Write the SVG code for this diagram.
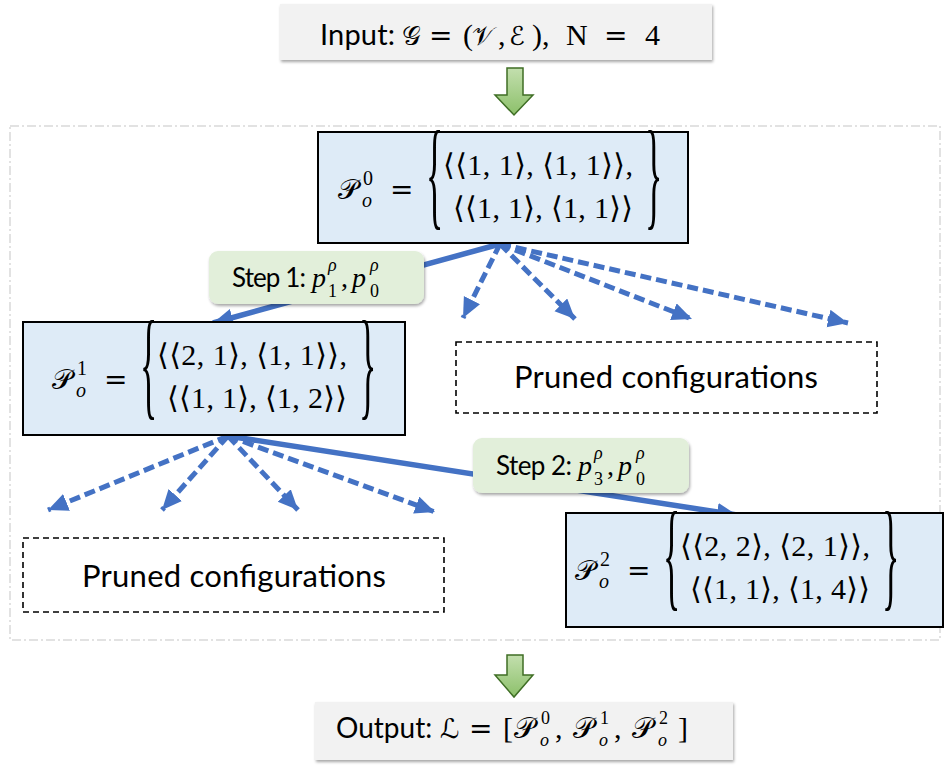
<svg xmlns="http://www.w3.org/2000/svg" width="948" height="765" viewBox="0 0 948 765">
<defs>
<style>
.sans{font-family:Lato,"Open Sans","Liberation Sans",sans-serif;fill:#000}
.m{font-family:"Liberation Serif","DejaVu Serif",serif;fill:#000}
.eq{font-family:"DejaVu Serif","Liberation Serif",serif;fill:#000}
.mi{font-family:"Liberation Serif","DejaVu Serif",serif;font-style:italic;fill:#000}
.scr{font-family:"DejaVu Serif","DejaVu Sans","Noto Sans",serif;fill:#000}
.setbox{fill:#deebf7;stroke:#000;stroke-width:2}
.iobox{fill:#f2f2f2;stroke:none}
.step{fill:#e2efda;stroke:none}
.pruned{fill:none;stroke:#000;stroke-width:1.6;stroke-dasharray:6 4}
.solid{stroke:#4472c4;stroke-width:5.5;fill:none}
.dash{stroke:#4472c4;stroke-width:5;fill:none;stroke-dasharray:11 5}
.garrow{fill:url(#gg);stroke:#3f6e25;stroke-width:1.5}
</style>
<filter id="sh" x="-10%" y="-20%" width="120%" height="150%">
<feDropShadow dx="1" dy="2" stdDeviation="1.5" flood-color="#000" flood-opacity="0.35"/>
</filter>
<linearGradient id="gg" x1="0" y1="0" x2="0" y2="1">
<stop offset="0" stop-color="#c3dfae"/>
<stop offset="1" stop-color="#8cc06a"/>
</linearGradient>
<marker id="ah" markerUnits="userSpaceOnUse" markerWidth="24" markerHeight="22" refX="20" refY="9" orient="auto">
<path d="M0,0 L20,9 L0,18 z" fill="#4472c4"/>
</marker>
</defs>

<rect id="frame" x="10" y="126" width="930" height="514" fill="none" stroke="#d9d9d9" stroke-width="1.5" stroke-dasharray="9 3 2 3"/>

<g id="connectors">
<line class="solid" x1="500" y1="244" x2="213" y2="323" marker-end="url(#ah)"/>
<line class="dash" x1="500" y1="244" x2="463" y2="318" marker-end="url(#ah)"/>
<line class="dash" x1="500" y1="244" x2="575" y2="319" marker-end="url(#ah)"/>
<line class="dash" x1="500" y1="244" x2="692" y2="319" marker-end="url(#ah)"/>
<line class="dash" x1="500" y1="244" x2="848" y2="323" marker-end="url(#ah)"/>
<line class="dash" x1="228" y1="436" x2="48" y2="510" marker-end="url(#ah)"/>
<line class="dash" x1="228" y1="436" x2="162" y2="510" marker-end="url(#ah)"/>
<line class="dash" x1="228" y1="436" x2="298" y2="510" marker-end="url(#ah)"/>
<line class="dash" x1="228" y1="436" x2="435" y2="512" marker-end="url(#ah)"/>
<line class="solid" x1="228" y1="436" x2="737" y2="515" marker-end="url(#ah)"/>
<polygon id="down1" class="garrow" points="507,68 523,68 523,95 533,95 514,115 495,95 507,95"/>
<polygon id="down2" class="garrow" points="507,655 523,655 523,675 533,675 514,697 495,675 507,675"/>
</g>

<g id="input">
<rect class="iobox" x="280" y="4" width="432" height="56" filter="url(#sh)"/>
<text class="sans" x="320" y="45" font-size="29" textLength="75">Input:</text>
<text class="scr" x="402" y="45" font-size="26">𝒢</text>
<text class="eq" x="429" y="45" font-size="28">=</text>
<text class="m" x="463" y="45" font-size="30">(</text>
<text class="scr" x="472" y="45" font-size="26">𝒱</text>
<text class="m" x="498" y="45" font-size="30">,</text>
<text class="scr" x="509" y="45" font-size="26">ℰ</text>
<text class="m" x="532" y="45" font-size="30">),</text>
<text class="m" x="566" y="45" font-size="30">N</text>
<text class="eq" x="604" y="45" font-size="28">=</text>
<text class="m" x="645" y="45" font-size="30">4</text>
</g>

<g id="P0">
<rect class="setbox" x="318" y="132" width="370" height="111"/>
<g transform="translate(338,132)">
<text class="scr" x="0" y="67" font-size="28">𝒫</text>
<text class="m" x="25" y="53" font-size="20">0</text>
<text class="mi" x="24" y="75" font-size="20">o</text>
<text class="eq" x="52" y="67" font-size="28">=</text>
<text class="m" font-size="36" transform="translate(88,82) scale(1,3.33)">{</text>
<text class="m" x="105" y="43" font-size="30" textLength="190">⟨⟨1, 1⟩, ⟨1, 1⟩⟩,</text>
<text class="m" x="115" y="86" font-size="30" textLength="180">⟨⟨1, 1⟩, ⟨1, 1⟩⟩</text>
<text class="m" font-size="36" transform="translate(307,82) scale(1,3.33)">}</text>
</g>
</g>

<g id="step1">
<rect class="step" x="209" y="251" width="215" height="53" rx="9" filter="url(#sh)"/>
<text class="sans" x="232" y="287" font-size="26" textLength="74">Step 1:</text>
<text class="mi" x="312" y="287" font-size="28">p</text>
<text class="mi" x="328" y="271" font-size="18">ρ</text>
<text class="m" x="328" y="297" font-size="18">1</text>
<text class="m" x="341" y="287" font-size="28">,</text>
<text class="mi" x="352" y="287" font-size="28">p</text>
<text class="mi" x="370" y="271" font-size="18">ρ</text>
<text class="m" x="370" y="297" font-size="18">0</text>
</g>

<g id="P1">
<rect class="setbox" x="23" y="322" width="382" height="113"/>
<g transform="translate(52,322)">
<text class="scr" x="0" y="67" font-size="28">𝒫</text>
<text class="m" x="25" y="53" font-size="20">1</text>
<text class="mi" x="24" y="75" font-size="20">o</text>
<text class="eq" x="52" y="67" font-size="28">=</text>
<text class="m" font-size="36" transform="translate(88,82) scale(1,3.33)">{</text>
<text class="m" x="105" y="43" font-size="30" textLength="190">⟨⟨2, 1⟩, ⟨1, 1⟩⟩,</text>
<text class="m" x="115" y="86" font-size="30" textLength="180">⟨⟨1, 1⟩, ⟨1, 2⟩⟩</text>
<text class="m" font-size="36" transform="translate(307,82) scale(1,3.33)">}</text>
</g>
</g>

<g id="pruned1">
<rect class="pruned" x="456" y="342" width="421" height="71"/>
<text class="sans" x="514" y="388" font-size="31" textLength="304">Pruned configurations</text>
</g>

<g id="pruned2">
<rect class="pruned" x="23" y="538" width="421" height="74"/>
<text class="sans" x="82" y="587" font-size="31" textLength="304">Pruned configurations</text>
</g>

<g id="step2">
<rect class="step" x="473" y="438" width="216" height="55" rx="9" filter="url(#sh)"/>
<text class="sans" x="496" y="475" font-size="26" textLength="76">Step 2:</text>
<text class="mi" x="578" y="475" font-size="28">p</text>
<text class="mi" x="594" y="459" font-size="18">ρ</text>
<text class="m" x="594" y="485" font-size="18">3</text>
<text class="m" x="607" y="475" font-size="28">,</text>
<text class="mi" x="618" y="475" font-size="28">p</text>
<text class="mi" x="636" y="459" font-size="18">ρ</text>
<text class="m" x="636" y="485" font-size="18">0</text>
</g>

<g id="P2">
<rect class="setbox" x="566" y="513" width="377" height="114"/>
<g transform="translate(575,513)">
<text class="scr" x="0" y="67" font-size="28">𝒫</text>
<text class="m" x="25" y="53" font-size="20">2</text>
<text class="mi" x="24" y="75" font-size="20">o</text>
<text class="eq" x="52" y="67" font-size="28">=</text>
<text class="m" font-size="36" transform="translate(88,82) scale(1,3.33)">{</text>
<text class="m" x="105" y="43" font-size="30" textLength="190">⟨⟨2, 2⟩, ⟨2, 1⟩⟩,</text>
<text class="m" x="115" y="86" font-size="30" textLength="180">⟨⟨1, 1⟩, ⟨1, 4⟩⟩</text>
<text class="m" font-size="36" transform="translate(307,82) scale(1,3.33)">}</text>
</g>
</g>

<g id="output">
<rect class="iobox" x="315" y="702" width="418" height="58" filter="url(#sh)"/>
<text class="sans" x="336" y="738" font-size="28">Output:</text>
<text class="scr" x="440" y="738" font-size="27">ℒ</text>
<text class="eq" x="469" y="738" font-size="28">=</text>
<text class="m" x="503" y="738" font-size="30">[</text>
<text class="scr" x="514" y="738" font-size="29">𝒫</text>
<text class="m" x="541" y="724" font-size="18">0</text>
<text class="mi" x="540" y="746" font-size="18">o</text>
<text class="m" x="555" y="738" font-size="30">,</text>
<text class="scr" x="573" y="738" font-size="29">𝒫</text>
<text class="m" x="600" y="724" font-size="18">1</text>
<text class="mi" x="599" y="746" font-size="18">o</text>
<text class="m" x="614" y="738" font-size="30">,</text>
<text class="scr" x="632" y="738" font-size="29">𝒫</text>
<text class="m" x="659" y="724" font-size="18">2</text>
<text class="mi" x="658" y="746" font-size="18">o</text>
<text class="m" x="678" y="738" font-size="30">]</text>
</g>
</svg>
